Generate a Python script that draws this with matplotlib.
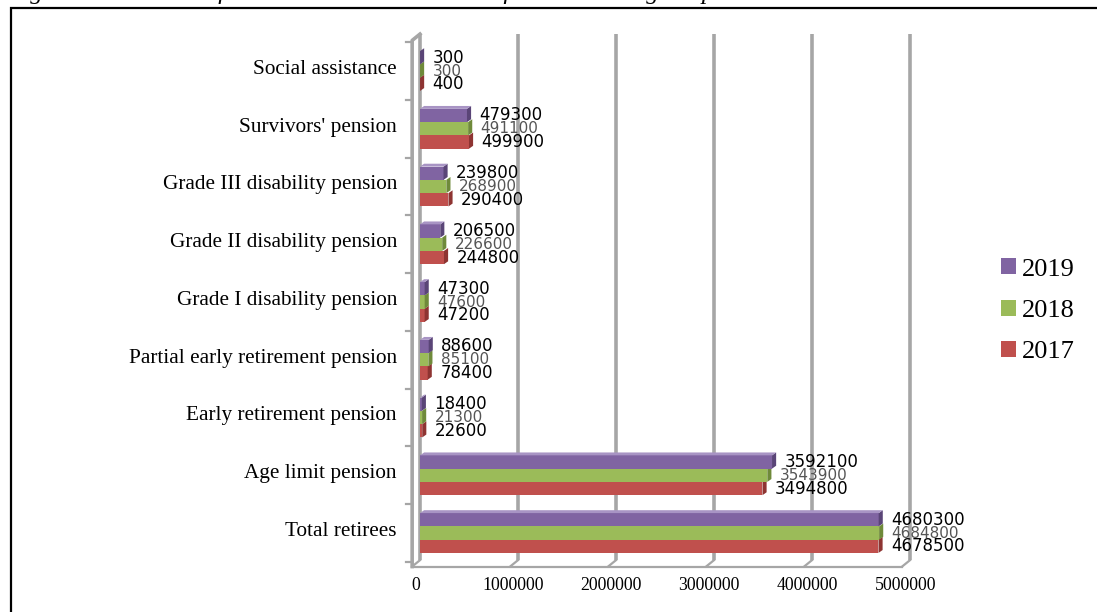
#!/usr/bin/env python3
"""
horizontal pseudo 3d bar chart of state social insurance beneficiaries 2017-2019
use: python plot.py  -> writes out.png
"""

import matplotlib.pyplot as plt
import matplotlib.patches as mpatches
from matplotlib.patches import Polygon
import numpy as np

# data (bottom category first)
categories = ["Total retirees", "Age limit pension", "Early retirement pension",
              "Partial early retirement pension", "Grade I disability pension",
              "Grade II disability pension", "Grade III disability pension",
              "Survivors' pension", "Social assistance"]
values_2017 = [4678500, 3494800, 22600, 78400, 47200, 244800, 290400, 499900, 400]
values_2018 = [4684800, 3543900, 21300, 85100, 47600, 226600, 268900, 491100, 300]
values_2019 = [4680300, 3592100, 18400, 88600, 47300, 206500, 239800, 479300, 300]
years = ["2017", "2018", "2019"]
x_ticks = [0, 1000000, 2000000, 3000000, 4000000, 5000000]
title = "Figure 10. Number of state social insurance beneficiaries during the period 2017-2019"

colors = {"2017": "#C0504D", "2018": "#9BBB59", "2019": "#8064A2"}
side_colors = {"2017": "#8E3432", "2018": "#6F8A3A", "2019": "#5A4577"}
top_colors = {"2017": "#D98987", "2018": "#BCD48F", "2019": "#A894C4"}

SERIF = "Liberation Serif"
GRID = "#a6a6a6"

# depth offsets of the fake 3d box (data units)
DX = 80000      # floor / front axis shift to the left
DY = 0.11       # floor shift downwards
BD = 42000      # bar side face width
BDY = 0.05      # bar side face rise


def draw_box(ax, n_cat):
    """back wall gridlines, front axis and floor, like the excel 3d chart"""
    y_floor_back = -0.47
    y_floor_front = y_floor_back - DY
    y_top = n_cat - 0.36
    for xv in x_ticks:
        ax.plot([xv, xv], [y_floor_back, y_top], color=GRID, lw=2.6, zorder=1,
                solid_capstyle='butt')
        # little diagonal from floor front to the back wall
        ax.plot([xv - DX, xv], [y_floor_front, y_floor_back], color=GRID, lw=1.6, zorder=1)
    # front floor line
    ax.plot([-DX, x_ticks[-1] - DX], [y_floor_front, y_floor_front], color=GRID, lw=1.6, zorder=1)
    # front left axis with a diagonal at the top
    ax.plot([-DX, -DX, 0], [y_floor_front, y_top - DY, y_top], color=GRID, lw=2.6, zorder=1)
    # category ticks on the left axis
    for k in range(n_cat + 1):
        yk = k - 0.5
        ax.plot([-DX - 65000, -DX], [yk, yk], color=GRID, lw=1.6, zorder=1)
    # tick labels under the front floor
    for xv in x_ticks:
        ax.text(xv - DX * 0.6, y_floor_front - 0.33, str(xv), ha='center', va='center',
                family=SERIF, fontsize=12.8, color='black')


def draw_bars(ax, y, vals, year, offset, height):
    for yi, v in zip(y, vals):
        y0 = yi + offset - height / 2
        y1 = yi + offset + height / 2
        ax.add_patch(mpatches.Rectangle((0, y0), v, height, facecolor=colors[year],
                                        edgecolor='none', zorder=3))
        # side face at the end of the bar
        ax.add_patch(Polygon([(v, y0), (v + BD, y0 + BDY), (v + BD, y1 + BDY), (v, y1)],
                             closed=True, facecolor=side_colors[year], edgecolor='none', zorder=3))
        if year == "2019":
            # top face only visible on the upper bar
            ax.add_patch(Polygon([(0, y1), (BD, y1 + BDY), (v + BD, y1 + BDY), (v, y1)],
                                 closed=True, facecolor=top_colors[year], edgecolor='none', zorder=3))


def main():
    fig = plt.figure(figsize=(10.97, 6.12), dpi=100)

    # axes placed in pixels: x 400..930, y 25..600 (from top)
    ax = fig.add_axes([400 / 1097, (612 - 600) / 612, 530 / 1097, 575 / 612])
    ax.set_xlim(-204082, 5204082)
    ax.set_ylim(-1.160, 8.797)
    ax.axis('off')

    y = np.arange(len(categories))
    h = 0.23
    draw_box(ax, len(categories))
    draw_bars(ax, y, values_2017, "2017", -h, h)
    draw_bars(ax, y, values_2018, "2018", 0, h)
    draw_bars(ax, y, values_2019, "2019", h, h)

    # value labels, 2019 on top, 2018 in the middle (lighter), 2017 below
    for yi, v17, v18, v19 in zip(y, values_2017, values_2018, values_2019):
        for v, off, col, fs in [(v19, h, 'black', 12), (v18, 0, '#555555', 11),
                                (v17, -h, 'black', 12)]:
            ax.annotate(str(v), (v, yi + off), xytext=(9, 0), textcoords='offset points',
                        ha='left', va='center', fontsize=fs, color=col,
                        family='DejaVu Sans', zorder=4)

    # category labels left of the axis
    for yi, cat in zip(y, categories):
        ax.text(-235000, yi + 0.03, cat, ha='right', va='center', family=SERIF,
                fontsize=15.3, color='black', clip_on=False)

    # legend, 2019 first like the original
    handles = [mpatches.Patch(facecolor=colors[yr], edgecolor='none') for yr in years[::-1]]
    fig.legend(handles, years[::-1], loc='center left', bbox_to_anchor=(1001 / 1097, 0.492),
               frameon=False, prop={'family': SERIF, 'size': 19}, handlelength=0.55,
               handleheight=0.55, handletextpad=0.25, labelspacing=0.72,
               borderpad=0, borderaxespad=0)

    # frame around the chart, runs off the right and bottom edge
    fig.patches.append(mpatches.Rectangle((11 / 1097, -0.1), 1.2, (612 - 8) / 612 + 0.1,
                                          transform=fig.transFigure, fill=False,
                                          edgecolor='black', lw=1.6))
    # caption cut off at the top, only the descenders show
    fig.text(8 / 1097, 1 + 1.5 / 612, title, ha='left', va='baseline', family=SERIF,
             style='italic', fontsize=18)

    plt.savefig("out.png", dpi=100)
    plt.close()


if __name__ == "__main__":
    main()
